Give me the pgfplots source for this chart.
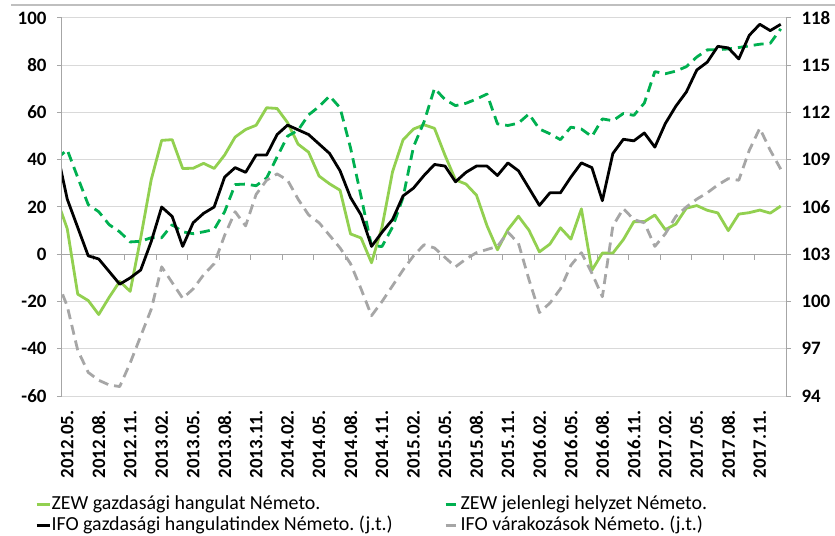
\documentclass[border=0pt]{standalone}
\usepackage{fontspec}
\setmainfont{Carlito}
\usepackage{pgfplots}
\usepackage{pgfplotstable}
\pgfplotsset{compat=1.18}
\definecolor{zewl}{HTML}{92D050}
\definecolor{zewd}{HTML}{00B050}
\definecolor{ifoe}{HTML}{A6A6A6}
\definecolor{axisgray}{HTML}{A6A6A6}
\definecolor{gridgray}{HTML}{D9D9D9}

\pgfplotstableread{
i zews zewc ifoc ifoe
-1 23.4 40.5 109.6 101.4
0 10.8 44.2 106.5 99.7
1 -16.9 32.5 104.7 96.9
2 -19.6 21.0 102.9 95.5
3 -25.5 18.0 102.7 95.0
4 -18.2 12.5 101.9 94.7
5 -11.5 9.5 101.1 94.6
6 -15.7 5.2 101.5 96.1
7 6.9 5.5 102.0 97.8
8 31.5 7.0 103.8 99.5
9 48.2 7.0 106.0 102.2
10 48.5 12.5 105.4 101.2
11 36.3 9.5 103.5 100.2
12 36.4 8.7 105.0 100.8
13 38.5 9.5 105.6 101.7
14 36.3 10.5 106.0 102.4
15 42.0 18.0 107.9 104.2
16 49.6 29.5 108.5 105.7
17 52.8 29.7 108.2 104.8
18 54.6 29.0 109.3 106.8
19 62.0 32.3 109.3 107.7
20 61.7 41.2 110.6 108.1
21 55.7 50.0 111.2 107.7
22 46.6 52.5 110.9 106.5
23 43.2 59.0 110.6 105.5
24 33.1 62.5 110.0 105.0
25 29.8 67.0 109.4 104.2
26 27.1 62.0 108.3 103.4
27 8.6 45.0 106.6 102.4
28 6.9 24.5 105.5 100.8
29 -3.6 3.5 103.5 99.1
30 11.5 3.3 104.4 100.0
31 34.9 11.5 105.2 101.0
32 48.4 24.0 106.7 102.0
33 53.0 45.5 107.2 102.9
34 54.8 56.0 108.0 103.6
35 53.3 70.2 108.7 103.4
36 41.9 65.5 108.6 102.8
37 31.5 62.9 107.6 102.2
38 29.7 63.9 108.2 102.7
39 25.0 65.7 108.6 103.1
40 12.1 67.8 108.6 103.3
41 1.9 55.2 108.0 103.5
42 10.4 54.5 108.8 104.4
43 16.1 55.5 108.3 103.7
44 10.2 59.4 107.2 101.4
45 1.0 53.0 106.1 99.3
46 4.3 51.0 106.9 99.9
47 11.2 48.5 106.9 100.8
48 6.4 53.8 107.9 102.3
49 19.2 53.0 108.8 103.1
50 -6.8 49.8 108.5 101.8
51 0.5 57.3 106.4 100.3
52 0.5 56.5 109.4 104.8
53 6.2 59.6 110.3 105.9
54 13.8 58.8 110.2 105.2
55 13.8 64.0 110.7 105.0
56 16.6 77.3 109.8 103.5
57 10.4 76.4 111.3 104.3
58 12.8 77.5 112.4 105.4
59 19.5 79.4 113.3 106.0
60 20.6 83.5 114.7 106.5
61 18.6 86.5 115.2 106.9
62 17.5 86.6 116.2 107.4
63 10.0 86.9 116.1 107.8
64 17.0 87.5 115.4 107.7
65 17.6 88.2 116.9 109.6
66 18.7 88.9 117.6 111.0
67 17.4 89.3 117.2 109.6
68 20.4 95.4 117.6 108.4
}\datatable

\pgfplotsset{
  common/.style={
    scale only axis, width=724bp, height=378bp,
    at={(62bp,140bp)}, anchor=south west,
    xmin=-0.5, xmax=68.5,
    tick label style={font=\fontsize{19}{19}\selectfont\bfseries, black},
    axis line style={draw=axisgray, line width=1bp},
    every tick/.style={axisgray, line width=1bp},
    tick align=outside,
    major tick length=5bp,
    yticklabel shift=7bp,
    clip=true,
  },
  ser/.style={line width=2.8bp, line join=round},
  dsh/.style={dash pattern=on 10bp off 6bp},
}

\begin{document}
\frenchspacing
\begin{tikzpicture}
\useasboundingbox (0,0) rectangle (835bp,536bp);
\draw[line width=2bp, color=black!25] (11bp,531bp) -- (835bp,531bp);

\begin{axis}[common,
  axis y line*=left,
  axis x line*=bottom,
  x axis line style={draw=none},
  ymin=-60, ymax=100,
  ytick={-60,-40,...,100},
  yticklabels={-60,-40,-20,0,20,40,60,80,100},
  ymajorgrids, grid style={gridgray, line width=1bp},
  extra y ticks={0}, extra y tick labels={},
  extra y tick style={grid style={axisgray, line width=1bp}},
  xtick={0,3,...,66},
  xticklabels={2012.05.,2012.08.,2012.11.,2013.02.,2013.05.,2013.08.,2013.11.,2014.02.,2014.05.,2014.08.,2014.11.,2015.02.,2015.05.,2015.08.,2015.11.,2016.02.,2016.05.,2016.08.,2016.11.,2017.02.,2017.05.,2017.08.,2017.11.},
  x tick label style={rotate=90, anchor=east},
  xticklabel shift=6bp,
  x tick style={draw=none},
]
\pgfplotsinvokeforeach{2.5,5.5,8.5,11.5,14.5,17.5,20.5,23.5,26.5,29.5,32.5,35.5,38.5,41.5,44.5,47.5,50.5,53.5,56.5,59.5,62.5,65.5}{
  \draw[axisgray, line width=1bp] (axis cs:#1,0) -- ([yshift=-6bp]axis cs:#1,0);
}
\addplot[ser, zewl, forget plot] table[x=i, y=zews]{\datatable};
\addplot[ser, dsh, zewd, forget plot] table[x=i, y=zewc]{\datatable};
\end{axis}

\begin{axis}[common,
  axis y line*=right,
  hide x axis,
  ymin=94, ymax=118,
  ytick={94,97,...,118},
  yticklabels={94,97,100,103,106,109,112,115,118},
  y tick label style={anchor=west},
  legend columns=2,
  legend cell align=left,
  legend image code/.code={\draw[#1] (0bp,0bp) -- (13bp,0bp);},
  legend style={at={(-0.0373,-0.258)}, anchor=north west, draw=none, fill=none,
    inner sep=0pt, font=\fontsize{20}{20}\selectfont,
    nodes={inner sep=0.5bp, text height=15bp, text depth=5bp},
    /tikz/every even column/.append style={column sep=51bp}},
]
\addlegendimage{ser, zewl}
\addlegendentry{ZEW gazdasági hangulat Németo.}
\addlegendimage{ser, dsh, zewd}
\addlegendentry{ZEW jelenlegi helyzet Németo.}
\addplot[ser, black] table[x=i, y=ifoc]{\datatable};
\addlegendentry{IFO gazdasági hangulatindex Németo. (j.t.)}
\addplot[ser, dsh, ifoe] table[x=i, y=ifoe]{\datatable};
\addlegendentry{IFO várakozások Németo. (j.t.)}
\end{axis}
\end{tikzpicture}
\end{document}
